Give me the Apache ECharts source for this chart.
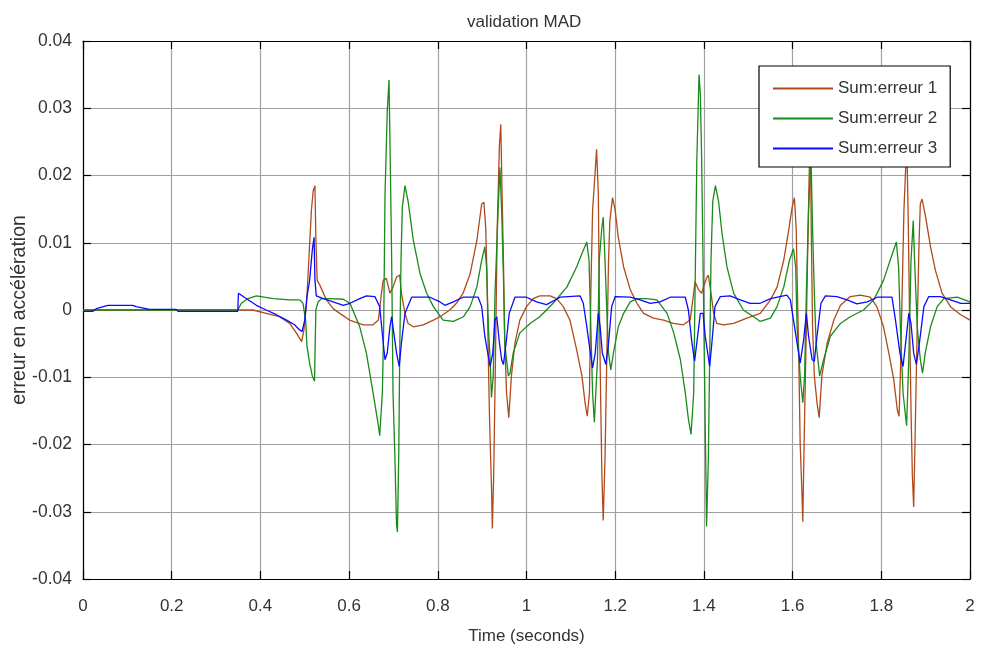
<!DOCTYPE html>
<html>
<head>
<meta charset="utf-8">
<script src="https://cdn.jsdelivr.net/npm/echarts@6/dist/echarts.min.js"></script>
<style>
html,body{margin:0;padding:0;background:#fff;}
#chart{width:989px;height:651px;}
</style>
</head>
<body>
<div id="chart"></div>
<script>
const titleText = 'validation MAD';
const xName = 'Time (seconds)';
const yName = 'erreur en accélération';
const seriesNames = ['Sum:erreur 1', 'Sum:erreur 2', 'Sum:erreur 3'];
const xMin = 0, xMax = 2, xStep = 0.2;
const yMin = -0.04, yMax = 0.04, yStep = 0.01;

const erreur1 = [[0,0],[0.349,0],[0.352,0.0002],[0.383,0],[0.413,-0.0005],[0.443,-0.001],[0.466,-0.002],[0.481,-0.0034],[0.493,-0.0047],[0.498,-0.003],[0.504,0.001],[0.508,0.0059],[0.511,0.0098],[0.515,0.0148],[0.519,0.0177],[0.523,0.0185],[0.525,0.0108],[0.528,0.0044],[0.534,0.0037],[0.549,0.0015],[0.564,0.0002],[0.579,-0.0005],[0.601,-0.0015],[0.632,-0.0022],[0.654,-0.0022],[0.666,-0.0015],[0.673,0.0025],[0.677,0.0044],[0.684,0.0047],[0.692,0.0025],[0.699,0.0034],[0.707,0.0049],[0.714,0.0052],[0.718,0.0025],[0.726,-0.0005],[0.733,-0.002],[0.745,-0.0025],[0.767,-0.0022],[0.790,-0.0015],[0.805,-0.001],[0.827,0],[0.842,0.001],[0.857,0.0025],[0.873,0.0054],[0.888,0.0103],[0.899,0.0158],[0.904,0.016],[0.908,0.0123],[0.911,0.0049],[0.914,-0.0074],[0.917,-0.0172],[0.921,-0.0261],[0.923,-0.0325],[0.926,-0.0246],[0.930,-0.0074],[0.934,0.0123],[0.939,0.0246],[0.942,0.0276],[0.945,0.0172],[0.948,0.0074],[0.951,-0.0049],[0.955,-0.0123],[0.960,-0.016],[0.966,-0.0098],[0.974,-0.0049],[0.985,-0.0015],[1.0,0.0005],[1.015,0.0017],[1.030,0.0021],[1.053,0.0021],[1.068,0.0017],[1.083,0.0005],[1.098,-0.0015],[1.113,-0.0059],[1.125,-0.0098],[1.132,-0.0138],[1.137,-0.0158],[1.142,-0.0123],[1.145,0.0025],[1.149,0.0148],[1.155,0.0207],[1.158,0.0239],[1.162,0.0172],[1.164,0.0025],[1.167,-0.0123],[1.170,-0.0246],[1.173,-0.0313],[1.177,-0.0222],[1.181,-0.0074],[1.185,0.0074],[1.188,0.0133],[1.194,0.0167],[1.200,0.0148],[1.207,0.0108],[1.219,0.0064],[1.234,0.003],[1.249,0.001],[1.264,-0.0005],[1.286,-0.0012],[1.309,-0.0015],[1.331,-0.002],[1.354,-0.0022],[1.369,-0.0015],[1.375,0.0015],[1.380,0.0042],[1.388,0.003],[1.395,0.0025],[1.399,0.0034],[1.407,0.0049],[1.410,0.0052],[1.416,0.0025],[1.422,-0.0005],[1.429,-0.002],[1.444,-0.0022],[1.467,-0.002],[1.497,-0.0012],[1.527,-0.0005],[1.550,0.0015],[1.565,0.0034],[1.580,0.0074],[1.591,0.0118],[1.599,0.0153],[1.604,0.0167],[1.608,0.0123],[1.611,0.0025],[1.614,-0.0074],[1.617,-0.0197],[1.621,-0.0271],[1.623,-0.0315],[1.626,-0.0197],[1.631,-0.0025],[1.635,0.0123],[1.638,0.0222],[1.640,0.027],[1.642,0.0123],[1.645,-0.0025],[1.649,-0.0098],[1.655,-0.0138],[1.660,-0.016],[1.666,-0.0098],[1.678,-0.0049],[1.693,-0.0015],[1.708,0.0007],[1.730,0.002],[1.753,0.0022],[1.775,0.0019],[1.790,0.0005],[1.805,-0.0025],[1.817,-0.0064],[1.828,-0.0103],[1.836,-0.0148],[1.840,-0.0158],[1.843,-0.0098],[1.847,0.0025],[1.851,0.0148],[1.855,0.0212],[1.858,0.0231],[1.861,0.0123],[1.864,-0.0025],[1.867,-0.0148],[1.870,-0.0246],[1.873,-0.0293],[1.876,-0.0197],[1.881,-0.0025],[1.885,0.0098],[1.888,0.0158],[1.892,0.0165],[1.900,0.0138],[1.911,0.0094],[1.922,0.0059],[1.937,0.0025],[1.956,0.0005],[1.979,-0.0007],[2.0,-0.0015]];

const erreur2 = [[0,0],[0.349,0],[0.357,0.001],[0.372,0.0017],[0.391,0.0021],[0.429,0.0017],[0.466,0.0015],[0.489,0.0015],[0.496,0.001],[0.502,-0.0015],[0.505,-0.0054],[0.511,-0.0079],[0.517,-0.0098],[0.522,-0.0106],[0.525,0],[0.530,0.0012],[0.538,0.0017],[0.556,0.0017],[0.587,0.0016],[0.602,0.001],[0.624,-0.0025],[0.639,-0.0064],[0.654,-0.0123],[0.666,-0.0172],[0.669,-0.0187],[0.675,-0.0123],[0.678,-0.0025],[0.681,0.0172],[0.686,0.0295],[0.690,0.0342],[0.693,0.0212],[0.696,0.0074],[0.699,-0.0123],[0.703,-0.0212],[0.707,-0.032],[0.709,-0.033],[0.712,-0.0212],[0.714,-0.0074],[0.717,0.0074],[0.720,0.0153],[0.726,0.0185],[0.733,0.0162],[0.745,0.0103],[0.760,0.0054],[0.775,0.0025],[0.790,0.0005],[0.812,-0.0015],[0.835,-0.0017],[0.858,-0.001],[0.873,0.0005],[0.888,0.0034],[0.899,0.0074],[0.906,0.0094],[0.910,0.0064],[0.914,-0.0025],[0.918,-0.0074],[0.921,-0.013],[0.925,-0.0098],[0.929,0.0025],[0.936,0.0148],[0.940,0.0212],[0.944,0.0148],[0.948,0.0049],[0.951,-0.0049],[0.959,-0.0098],[0.963,-0.0094],[0.970,-0.0064],[0.985,-0.0034],[1.008,-0.002],[1.030,-0.001],[1.060,0.001],[1.091,0.0034],[1.113,0.0064],[1.125,0.0084],[1.136,0.0101],[1.141,0.0074],[1.145,-0.0025],[1.149,-0.0123],[1.153,-0.0167],[1.157,-0.0167],[1.160,-0.0074],[1.164,0.0074],[1.170,0.0123],[1.173,0.0138],[1.177,0.0074],[1.181,0],[1.185,-0.0064],[1.190,-0.0089],[1.196,-0.0064],[1.207,-0.0025],[1.219,-0.0005],[1.234,0.0012],[1.249,0.0017],[1.271,0.0017],[1.294,0.0015],[1.317,-0.0005],[1.332,-0.0034],[1.347,-0.0074],[1.358,-0.0123],[1.365,-0.0162],[1.371,-0.0185],[1.377,-0.0123],[1.380,0.0025],[1.384,0.0222],[1.389,0.035],[1.392,0.032],[1.395,0.0222],[1.398,0.0074],[1.401,-0.0074],[1.404,-0.0222],[1.406,-0.0322],[1.410,-0.0222],[1.413,-0.0074],[1.416,0.0074],[1.420,0.0162],[1.426,0.0185],[1.433,0.0162],[1.441,0.0113],[1.452,0.0064],[1.467,0.0025],[1.489,0],[1.512,-0.001],[1.527,-0.0017],[1.550,-0.0012],[1.565,0.0005],[1.580,0.0034],[1.593,0.0074],[1.602,0.0091],[1.607,0.0064],[1.610,-0.0025],[1.617,-0.0098],[1.623,-0.0138],[1.627,-0.0098],[1.631,0.0025],[1.636,0.0148],[1.640,0.0207],[1.642,0.0212],[1.645,0.0123],[1.649,0.0025],[1.653,-0.0049],[1.661,-0.0098],[1.670,-0.0074],[1.685,-0.0039],[1.708,-0.002],[1.730,-0.001],[1.760,0],[1.783,0.0015],[1.805,0.0044],[1.820,0.0074],[1.834,0.0101],[1.839,0.0064],[1.843,-0.0025],[1.849,-0.0123],[1.857,-0.0172],[1.862,-0.0074],[1.867,0.0074],[1.872,0.0133],[1.875,0.0074],[1.881,-0.0025],[1.888,-0.0074],[1.893,-0.0094],[1.899,-0.0064],[1.911,-0.0025],[1.926,0.0005],[1.941,0.0017],[1.971,0.0019],[2.0,0.0012]];

const erreur3 = [[0,-0.0002],[0.0225,-0.0002],[0.030,0.0002],[0.056,0.0007],[0.112,0.0007],[0.120,0.0005],[0.150,0.0001],[0.210,0.0001],[0.214,-0.0002],[0.349,-0.0002],[0.3505,0.0025],[0.368,0.0017],[0.391,0.0007],[0.413,0],[0.436,-0.0007],[0.459,-0.0015],[0.477,-0.0022],[0.489,-0.003],[0.494,-0.0032],[0.500,-0.0015],[0.505,0.002],[0.511,0.0044],[0.517,0.0089],[0.521,0.0108],[0.523,0.0044],[0.526,0.0021],[0.542,0.0017],[0.564,0.0012],[0.587,0.0007],[0.602,0.001],[0.624,0.0017],[0.639,0.0021],[0.658,0.002],[0.669,0.0005],[0.677,-0.0049],[0.681,-0.0074],[0.686,-0.0064],[0.692,-0.0025],[0.696,-0.001],[0.699,-0.0025],[0.707,-0.0064],[0.713,-0.0084],[0.718,-0.0049],[0.726,-0.0005],[0.741,0.0019],[0.782,0.0019],[0.805,0.0012],[0.816,0.0007],[0.835,0.0012],[0.857,0.0019],[0.891,0.0019],[0.899,0.0005],[0.906,-0.0039],[0.918,-0.0084],[0.924,-0.0064],[0.929,-0.0015],[0.933,-0.001],[0.939,-0.0049],[0.944,-0.0074],[0.948,-0.0081],[0.954,-0.0049],[0.961,-0.0005],[0.974,0.0019],[1.0,0.0019],[1.023,0.0012],[1.045,0.0008],[1.076,0.0019],[1.121,0.0021],[1.128,0.001],[1.136,-0.0025],[1.143,-0.0059],[1.149,-0.0086],[1.155,-0.0064],[1.162,-0.0005],[1.166,-0.0025],[1.171,-0.0064],[1.179,-0.0081],[1.185,-0.0049],[1.192,0.0005],[1.200,0.002],[1.234,0.0019],[1.256,0.0015],[1.279,0.001],[1.301,0.0012],[1.324,0.0019],[1.358,0.0019],[1.365,0],[1.373,-0.0049],[1.379,-0.0076],[1.384,-0.0049],[1.392,-0.0005],[1.398,-0.0005],[1.403,-0.0039],[1.413,-0.0084],[1.418,-0.0049],[1.425,0.0005],[1.437,0.002],[1.459,0.0021],[1.482,0.0015],[1.504,0.001],[1.527,0.001],[1.550,0.0017],[1.587,0.0022],[1.595,0.0015],[1.602,-0.0015],[1.610,-0.0049],[1.617,-0.0079],[1.625,-0.0044],[1.631,-0.0005],[1.636,-0.0039],[1.644,-0.0074],[1.649,-0.0076],[1.655,-0.0039],[1.664,0.001],[1.674,0.0021],[1.700,0.002],[1.723,0.0015],[1.745,0.0009],[1.768,0.0012],[1.791,0.0019],[1.824,0.0019],[1.832,-0.0015],[1.842,-0.0064],[1.849,-0.0084],[1.854,-0.0054],[1.862,-0.0005],[1.867,-0.002],[1.873,-0.0064],[1.879,-0.0081],[1.886,-0.0049],[1.896,0.0005],[1.907,0.002],[1.933,0.002],[1.956,0.0015],[1.979,0.001],[2.0,0.001]];

const colors = ['#b04a1c', '#1a8a1a', '#0a0aff'];
const FONT = 'Liberation Sans, Arial, sans-serif';
const TXT = '#333333';

const chart = echarts.init(document.getElementById('chart'), null, {renderer: 'canvas'});

function frameAxis(pos, isX, extra) {
  const base = {
    type: 'value',
    position: pos,
    min: isX ? xMin : yMin,
    max: isX ? xMax : yMax,
    interval: isX ? xStep : yStep,
    axisLine: {show: true, onZero: false, lineStyle: {color: '#000', width: 1.2}},
    axisTick: {show: true, inside: true, length: 8, lineStyle: {color: '#000', width: 1.2}},
    axisLabel: {show: false},
    splitLine: {show: false}
  };
  return Object.assign(base, extra || {});
}

const option = {
  backgroundColor: '#ffffff',
  animation: false,
  title: {
    text: titleText,
    left: 462,
    top: 9,
    textStyle: {fontFamily: FONT, fontSize: 17, fontWeight: 'normal', color: TXT}
  },
  grid: {left: 83, right: 19, top: 41, bottom: 72, show: false, containLabel: false, outerBoundsMode: 'none'},
  legend: {
    orient: 'vertical',
    left: 759,
    top: 66,
    backgroundColor: '#ffffff',
    borderColor: '#000',
    borderWidth: 1.2,
    borderRadius: 0,
    padding: [14, 13, 10, 13],
    itemWidth: 60,
    itemHeight: 14,
    itemGap: 13,
    itemStyle: {opacity: 0},
    textStyle: {fontFamily: FONT, fontSize: 17, color: TXT},
    data: seriesNames
  },
  xAxis: [
    frameAxis('bottom', true, {
      name: xName,
      nameLocation: 'middle',
      nameGap: 49,
      nameTextStyle: {fontFamily: FONT, fontSize: 17, color: TXT},
      axisLabel: {show: true, margin: 19, fontFamily: FONT, fontSize: 17, color: TXT,
        formatter: v => String(+v.toFixed(1))},
      splitLine: {show: true, lineStyle: {color: '#a0a0a0', width: 1.2}}
    }),
    frameAxis('top', true)
  ],
  yAxis: [
    frameAxis('left', false, {
      name: yName,
      nameLocation: 'middle',
      nameGap: 53,
      nameRotate: 90,
      nameMoveOverlap: false,
      nameTextStyle: {fontFamily: FONT, fontSize: 19.5, color: TXT},
      axisLabel: {show: true, margin: 11, fontFamily: FONT, fontSize: 17.5, color: TXT,
        formatter: v => String(+v.toFixed(2))},
      splitLine: {show: true, lineStyle: {color: '#a0a0a0', width: 1.2}}
    }),
    frameAxis('right', false)
  ],
  series: [erreur1, erreur2, erreur3].map((d, i) => ({
    name: seriesNames[i],
    type: 'line',
    xAxisIndex: 0,
    yAxisIndex: 0,
    data: d,
    symbol: 'none',
    showSymbol: false,
    color: colors[i],
    lineStyle: {color: colors[i], width: 1.3},
    z: 2 + i
  }))
};
chart.setOption(option);
</script>
</body>
</html>
